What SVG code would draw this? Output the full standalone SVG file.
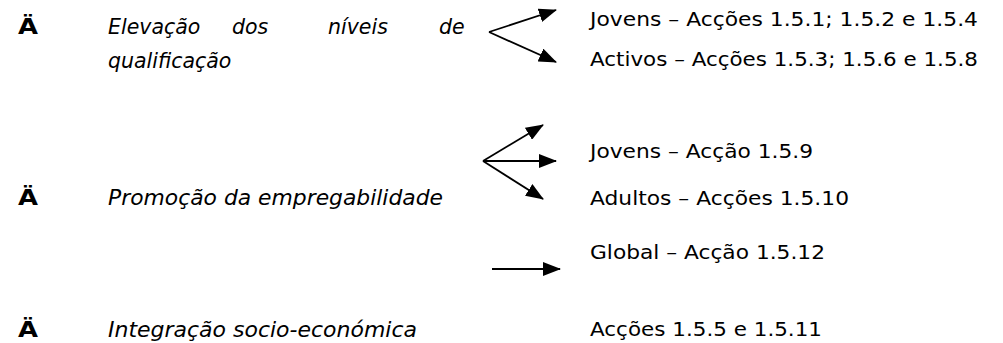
<svg xmlns="http://www.w3.org/2000/svg" width="1003" height="343" viewBox="0 0 1003 343">
<style>
.bul{font-family:"DejaVu Sans","Liberation Sans",sans-serif;font-weight:bold;font-size:21px;fill:#000}
.it{font-family:"DejaVu Sans","Liberation Sans",sans-serif;font-style:italic;font-size:20.5px;fill:#000}
.rt{font-family:"DejaVu Sans","Liberation Sans",sans-serif;font-size:19px;fill:#000}
.ln{stroke:#000;stroke-width:1.8;fill:none;marker-end:url(#ah)}
</style>
<defs>
<marker id="ah" viewBox="0 0 18 14" refX="17" refY="7" markerWidth="18" markerHeight="14" markerUnits="userSpaceOnUse" orient="auto">
<path d="M0,0 L18,7 L0,14 Z" fill="#000"/>
</marker>
</defs>
<g id="goal1">
<text class="bul" x="18" y="34" textLength="20" lengthAdjust="spacingAndGlyphs">Ä</text>
<text class="it" x="108" y="34">Elevação</text>
<text class="it" x="232" y="34">dos</text>
<text class="it" x="328" y="34">níveis</text>
<text class="it" x="439" y="34">de</text>
<text class="it" x="108" y="68">qualificação</text>
</g>
<g id="goal2">
<text class="bul" x="18" y="205" textLength="20" lengthAdjust="spacingAndGlyphs">Ä</text>
<text class="it" x="108" y="205" textLength="335" lengthAdjust="spacingAndGlyphs">Promoção da empregabilidade</text>
</g>
<g id="goal3">
<text class="bul" x="18" y="337" textLength="20" lengthAdjust="spacingAndGlyphs">Ä</text>
<text class="it" x="108" y="337" textLength="309" lengthAdjust="spacingAndGlyphs">Integração socio-económica</text>
</g>
<g id="t1">
<text class="rt" x="590" y="26" textLength="388" lengthAdjust="spacingAndGlyphs">Jovens – Acções 1.5.1; 1.5.2 e 1.5.4</text>
</g>
<g id="t2">
<text class="rt" x="590" y="66" textLength="388" lengthAdjust="spacingAndGlyphs">Activos – Acções 1.5.3; 1.5.6 e 1.5.8</text>
</g>
<g id="t3">
<text class="rt" x="590" y="158" textLength="223" lengthAdjust="spacingAndGlyphs">Jovens – Acção 1.5.9</text>
</g>
<g id="t4">
<text class="rt" x="590" y="205" textLength="259" lengthAdjust="spacingAndGlyphs">Adultos – Acções 1.5.10</text>
</g>
<g id="t5">
<text class="rt" x="590" y="259" textLength="235" lengthAdjust="spacingAndGlyphs">Global – Acção 1.5.12</text>
</g>
<g id="t6">
<text class="rt" x="590" y="336" textLength="232" lengthAdjust="spacingAndGlyphs">Acções 1.5.5 e 1.5.11</text>
</g>
<g id="connectors">
<line class="ln" x1="489" y1="32" x2="556" y2="10"/>
<line class="ln" x1="489" y1="32" x2="556" y2="62"/>
<line class="ln" x1="483" y1="161" x2="543" y2="125"/>
<line class="ln" x1="483" y1="161" x2="556" y2="161"/>
<line class="ln" x1="483" y1="161" x2="543" y2="199"/>
<line class="ln" x1="492" y1="269" x2="560" y2="269"/>
</g>
</svg>
